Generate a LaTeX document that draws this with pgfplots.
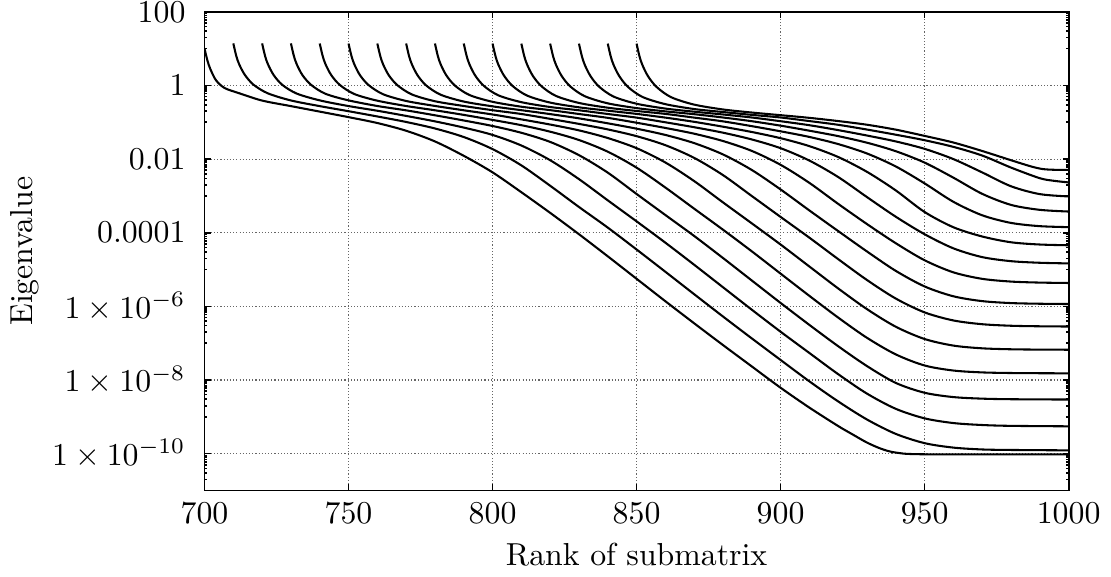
\documentclass[border=0pt]{standalone}
\usepackage{pgfplots}
\pgfplotsset{compat=1.18}
\tikzset{curve/.style={black, mark=none, line width=0.65pt, line join=round, smooth, tension=0.5}}
\begin{document}
\begin{tikzpicture}
\begin{axis}[
  width=271.7pt, height=150.5pt, scale only axis,
  xmin=700, xmax=1000,
  ymode=log, ymin=1e-11, ymax=100,
  xtick={700,750,800,850,900,950,1000},
  /pgf/number format/1000 sep={},
  ytick={1e-10,1e-8,1e-6,1e-4,1e-2,1,100},
  yticklabels={$1\times10^{-10}$,$1\times10^{-8}$,$1\times10^{-6}$,$0.0001$,$0.01$,$1$,$100$},
  minor ytick={1e-11,2e-11,3e-11,4e-11,5e-11,6e-11,7e-11,8e-11,9e-11,
    1e-9,2e-9,3e-9,4e-9,5e-9,6e-9,7e-9,8e-9,9e-9,
    1e-7,2e-7,3e-7,4e-7,5e-7,6e-7,7e-7,8e-7,9e-7,
    1e-5,2e-5,3e-5,4e-5,5e-5,6e-5,7e-5,8e-5,9e-5,
    1e-3,2e-3,3e-3,4e-3,5e-3,6e-3,7e-3,8e-3,9e-3,
    0.1,0.2,0.3,0.4,0.5,0.6,0.7,0.8,0.9,
    10,20,30,40,50,60,70,80,90},
  tick align=inside, tick pos=both,
  major tick length=1.9pt, minor tick length=0.9pt,
  grid=major,
  major grid style={black!60, line width=0.35pt, dash pattern=on 0.35pt off 0.65pt},
  axis line style={line width=0.6pt},
  every tick/.style={black, line width=0.5pt},
  yticklabel style={inner sep=0.5pt, xshift=-5.3pt},
  xticklabel style={yshift=-0.5pt},
  xlabel={Rank of submatrix}, ylabel={Eigenvalue},
  xlabel style={at={(axis description cs:0.5,0)}, anchor=north, yshift=-13pt},
]
% submatrix starting at 700
\addplot[curve] coordinates {(700,10.0)(701,4.79)(702,2.82)(704,1.38)(707,0.851)(712,0.617)(720,0.389)(730,0.275)(740,0.195)(750,0.138)(760,0.0955)(770,0.0589)(780,0.0302)(790,0.0123)(800,4.37e-3)(810,1.26e-3)(820,3.47e-4)(830,9.12e-5)(840,2.29e-5)(850,5.62e-6)(860,1.38e-6)(870,3.47e-7)(880,8.91e-8)(890,2.34e-8)(900,6.17e-9)(910,1.78e-9)(920,5.62e-10)(925,3.33e-10)(930,2.00e-10)(935,1.35e-10)(940,1.07e-10)(950,9.62e-11)(1000,9.55e-11)};
% 710
\addplot[curve] coordinates {(710,13.9)(711,6.43)(712,3.81)(714,1.94)(717,1.05)(722,0.611)(730,0.392)(740,0.275)(750,0.200)(760,0.144)(770,0.102)(780,0.0679)(790,0.0398)(800,0.0187)(810,6.75e-3)(820,1.89e-3)(830,5.01e-4)(840,1.38e-4)(850,3.51e-5)(860,8.71e-6)(870,2.14e-6)(880,5.31e-7)(890,1.35e-7)(900,3.51e-8)(910,9.20e-9)(920,2.62e-9)(930,8.46e-10)(940,3.44e-10)(950,1.93e-10)(960,1.46e-10)(970,1.30e-10)(980,1.26e-10)(1000,1.23e-10)};
% 720
\addplot[curve] coordinates {(720,13.9)(721,6.41)(722,3.80)(724,1.92)(727,1.04)(732,0.603)(740,0.394)(750,0.276)(760,0.206)(770,0.149)(780,0.106)(790,0.0719)(800,0.0454)(810,0.0234)(820,9.33e-3)(830,2.86e-3)(840,7.59e-4)(850,2.04e-4)(860,5.37e-5)(870,1.35e-5)(880,3.31e-6)(890,8.13e-7)(900,2.05e-7)(910,5.42e-8)(920,1.44e-8)(930,4.27e-9)(940,1.65e-9)(950,9.10e-10)(960,6.78e-10)(970,6.00e-10)(980,5.69e-10)(1000,5.53e-10)};
% 730
\addplot[curve] coordinates {(730,13.9)(731,6.41)(732,3.79)(734,1.91)(737,1.04)(742,0.594)(750,0.394)(760,0.277)(770,0.211)(780,0.155)(790,0.112)(800,0.0794)(810,0.0519)(820,0.0293)(830,0.0128)(840,4.29e-3)(850,1.13e-3)(860,3.03e-4)(870,8.17e-5)(880,2.06e-5)(890,5.05e-6)(900,1.24e-6)(910,3.14e-7)(920,8.28e-8)(930,2.39e-8)(940,8.34e-9)(950,4.51e-9)(960,3.44e-9)(970,3.12e-9)(980,3.01e-9)(1000,2.95e-9)};
% 740
\addplot[curve] coordinates {(740,13.8)(741,6.40)(742,3.78)(744,1.91)(747,1.03)(752,0.586)(760,0.386)(770,0.277)(780,0.212)(790,0.159)(800,0.116)(810,0.0834)(820,0.0556)(830,0.0330)(840,0.0159)(850,5.86e-3)(860,1.69e-3)(870,4.50e-4)(880,1.21e-4)(890,3.13e-5)(900,7.76e-6)(910,1.93e-6)(920,4.96e-7)(930,1.40e-7)(940,4.96e-8)(950,2.48e-8)(960,1.81e-8)(970,1.61e-8)(980,1.55e-8)(990,1.53e-8)(1000,1.52e-8)};
% 750
\addplot[curve] coordinates {(750,13.8)(751,6.38)(752,3.77)(754,1.89)(757,1.02)(762,0.578)(770,0.379)(780,0.278)(790,0.212)(800,0.163)(810,0.120)(820,0.0869)(830,0.0603)(840,0.0374)(850,0.0198)(860,8.09e-3)(870,2.53e-3)(880,6.68e-4)(890,1.80e-4)(900,4.79e-5)(910,1.21e-5)(920,3.07e-6)(930,8.41e-7)(940,2.80e-7)(950,1.30e-7)(960,8.61e-8)(970,7.26e-8)(980,6.84e-8)(990,6.70e-8)(1000,6.65e-8)};
% 760
\addplot[curve] coordinates {(760,13.8)(761,6.37)(762,3.75)(764,1.88)(767,1.01)(772,0.570)(780,0.373)(790,0.277)(800,0.213)(810,0.168)(820,0.124)(830,0.0904)(840,0.0641)(850,0.0420)(860,0.0239)(870,0.0108)(880,3.68e-3)(890,9.95e-4)(900,2.69e-4)(910,7.34e-5)(920,1.92e-5)(930,5.20e-6)(940,1.63e-6)(950,6.87e-7)(960,4.15e-7)(970,3.28e-7)(980,2.98e-7)(990,2.88e-7)(1000,2.84e-7)};
% 770
\addplot[curve] coordinates {(770,13.8)(771,6.35)(772,3.74)(774,1.87)(777,0.995)(782,0.560)(790,0.366)(800,0.271)(810,0.213)(820,0.167)(830,0.128)(840,0.0938)(850,0.0671)(860,0.0453)(870,0.0272)(880,0.0134)(890,5.07e-3)(900,1.50e-3)(910,4.03e-4)(920,1.11e-4)(930,3.10e-5)(940,9.21e-6)(950,3.48e-6)(960,1.88e-6)(970,1.39e-6)(980,1.23e-6)(990,1.18e-6)(1000,1.16e-6)};
% 780
\addplot[curve] coordinates {(780,13.8)(781,6.34)(782,3.73)(784,1.86)(787,0.984)(792,0.550)(800,0.360)(810,0.265)(820,0.214)(830,0.168)(840,0.132)(850,0.0973)(860,0.0702)(870,0.0490)(880,0.0310)(890,0.0167)(900,7.00e-3)(910,2.26e-3)(920,6.08e-4)(930,1.72e-4)(940,5.19e-5)(950,1.79e-5)(960,8.40e-6)(970,5.60e-6)(980,4.72e-6)(990,4.43e-6)(1000,4.32e-6)};
% 790
\addplot[curve] coordinates {(790,13.8)(791,6.33)(792,3.72)(794,1.85)(797,0.973)(802,0.540)(810,0.352)(820,0.260)(830,0.212)(840,0.168)(850,0.134)(860,0.100)(870,0.0735)(880,0.0522)(890,0.0342)(900,0.0198)(910,9.12e-3)(920,3.26e-3)(930,9.29e-4)(940,2.72e-4)(950,9.12e-5)(960,3.77e-5)(970,2.18e-5)(980,1.69e-5)(990,1.53e-5)(1000,1.47e-5)};
% 800
\addplot[curve] coordinates {(800,13.8)(801,6.32)(802,3.70)(804,1.84)(807,0.963)(812,0.531)(820,0.343)(830,0.255)(840,0.207)(850,0.169)(860,0.134)(870,0.103)(880,0.0759)(890,0.0545)(900,0.0370)(910,0.0225)(920,0.0114)(930,4.51e-3)(940,1.41e-3)(950,3.66e-4)(960,1.41e-4)(970,7.91e-5)(980,5.51e-5)(990,4.79e-5)(1000,4.57e-5)};
% 810
\addplot[curve] coordinates {(810,13.7)(811,6.30)(812,3.69)(814,1.82)(817,0.951)(822,0.521)(830,0.335)(840,0.249)(850,0.203)(860,0.169)(870,0.134)(880,0.106)(890,0.0786)(900,0.0569)(910,0.0400)(920,0.0256)(930,0.0142)(940,6.31e-3)(950,2.19e-3)(960,6.92e-4)(970,2.98e-4)(980,1.85e-4)(990,1.51e-4)(1000,1.42e-4)};
% 820
\addplot[curve] coordinates {(820,13.7)(821,6.29)(822,3.68)(824,1.81)(827,0.939)(832,0.512)(840,0.327)(850,0.243)(860,0.198)(870,0.166)(880,0.135)(890,0.107)(900,0.0810)(910,0.0591)(920,0.0421)(930,0.0279)(940,0.0164)(950,8.04e-3)(960,3.13e-3)(970,1.14e-3)(980,5.71e-4)(990,4.19e-4)(1000,3.77e-4)};
% 830
\addplot[curve] coordinates {(830,13.7)(831,6.28)(832,3.66)(834,1.80)(837,0.927)(842,0.500)(850,0.319)(860,0.236)(870,0.194)(880,0.163)(890,0.135)(900,0.107)(910,0.0833)(920,0.0613)(930,0.0437)(940,0.0302)(950,0.0190)(960,0.0100)(970,4.35e-3)(980,1.83e-3)(990,1.12e-3)(1000,9.70e-4)};
% 840
\addplot[curve] coordinates {(840,13.7)(841,6.27)(842,3.65)(844,1.79)(847,0.916)(852,0.490)(860,0.311)(870,0.229)(880,0.190)(890,0.159)(900,0.135)(910,0.108)(920,0.0855)(930,0.0635)(940,0.0460)(950,0.0326)(960,0.0215)(970,0.0125)(980,5.89e-3)(990,3.03e-3)(995,2.57e-3)(1000,2.33e-3)};
% 850
\addplot[curve] coordinates {(850,13.7)(851,6.25)(852,3.64)(854,1.77)(857,0.905)(862,0.480)(870,0.302)(880,0.223)(890,0.184)(900,0.156)(910,0.132)(920,0.108)(930,0.0858)(940,0.0631)(950,0.0427)(960,0.0282)(970,0.0166)(980,9.33e-3)(987,6.31e-3)(991,5.37e-3)(995,5.13e-3)(1000,5.13e-3)};
\end{axis}
\end{tikzpicture}
\end{document}
